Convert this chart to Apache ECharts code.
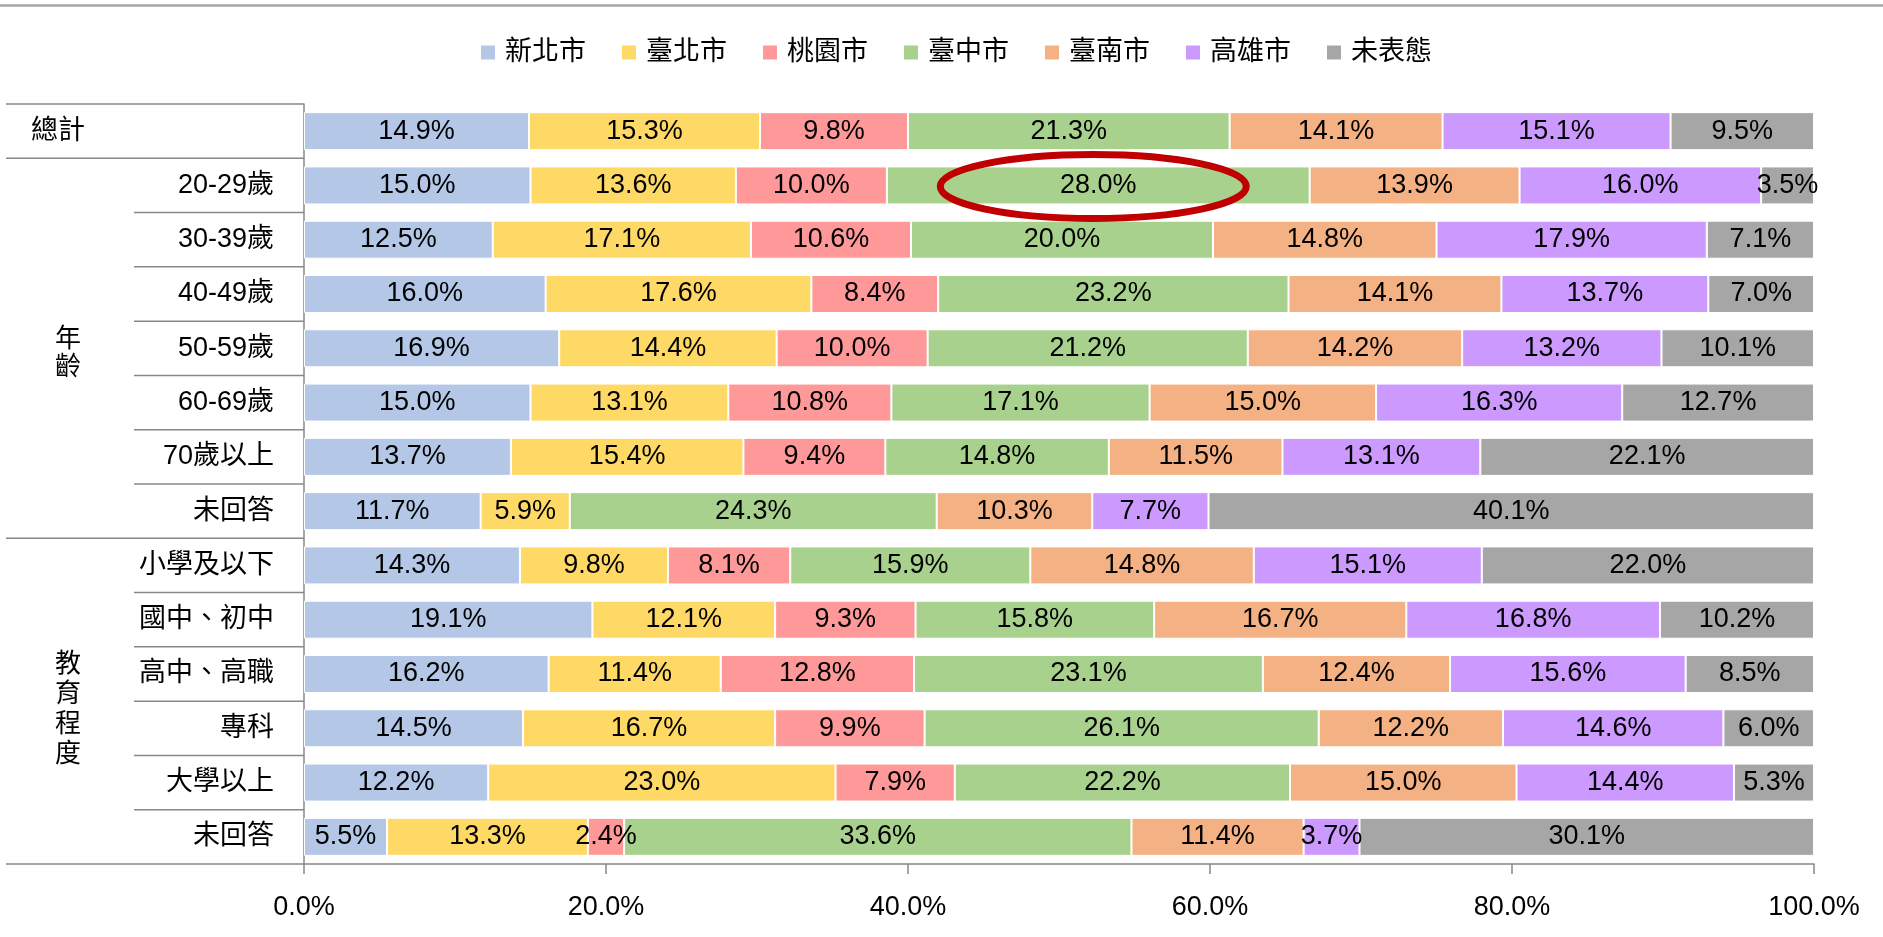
<!DOCTYPE html>
<html>
<head>
<meta charset="utf-8">
<script src="https://cdn.jsdelivr.net/npm/echarts@6/dist/echarts.min.js"></script>
<style>
html,body{margin:0;padding:0;background:#fff;}
#main{width:1883px;height:937px;}
</style>
</head>
<body>
<div id="main"></div>
<script>
const categories = ['總計','20-29歲','30-39歲','40-49歲','50-59歲','60-69歲','70歲以上','未回答','小學及以下','國中、初中','高中、高職','專科','大學以上','未回答'];
const seriesNames = ['新北市','臺北市','桃園市','臺中市','臺南市','高雄市','未表態'];
const newTaipei = [14.9,15.0,12.5,16.0,16.9,15.0,13.7,11.7,14.3,19.1,16.2,14.5,12.2,5.5];
const taipei    = [15.3,13.6,17.1,17.6,14.4,13.1,15.4,5.9,9.8,12.1,11.4,16.7,23.0,13.3];
const taoyuan   = [9.8,10.0,10.6,8.4,10.0,10.8,9.4,0,8.1,9.3,12.8,9.9,7.9,2.4];
const taichung  = [21.3,28.0,20.0,23.2,21.2,17.1,14.8,24.3,15.9,15.8,23.1,26.1,22.2,33.6];
const tainan    = [14.1,13.9,14.8,14.1,14.2,15.0,11.5,10.3,14.8,16.7,12.4,12.2,15.0,11.4];
const kaohsiung = [15.1,16.0,17.9,13.7,13.2,16.3,13.1,7.7,15.1,16.8,15.6,14.6,14.4,3.7];
const undecided = [9.5,3.5,7.1,7.0,10.1,12.7,22.1,40.1,22.0,10.2,8.5,6.0,5.3,30.1];
const xTicks = [0,20,40,60,80,100];
const groups = [
  {name:'年齡', from:1, to:7},
  {name:'教育程度', from:8, to:13}
];
const highlight = {row:1, series:3};

const seriesData = [newTaipei,taipei,taoyuan,taichung,tainan,kaohsiung,undecided];
const colors = ['#b4c7e7','#ffd966','#ff9999','#a9d18e','#f4b183','#cc99ff','#a6a6a6'];
const FONT = '"Liberation Sans", Arial, "Noto Sans CJK TC", sans-serif';

const chart = echarts.init(document.getElementById('main'), null, {renderer:'canvas'});

const option = {
  animation:false,
  backgroundColor:'#fff',
  textStyle:{fontFamily:FONT},
  legend:{
    data:seriesNames,
    left:474, top:34,
    itemWidth:16, itemHeight:16, itemGap:34,
    icon:'rect',
    textStyle:{fontSize:27, color:'#000', fontFamily:FONT, padding:[0,0,0,4]}
  },
  grid:{left:304, right:69, top:104, bottom:73, containLabel:false},
  xAxis:{
    type:'value', min:xTicks[0], max:xTicks[xTicks.length-1], interval:xTicks[1]-xTicks[0],
    axisLine:{show:true, lineStyle:{color:'#888', width:1.5}},
    axisTick:{show:true, length:10, lineStyle:{color:'#888', width:1.5}},
    splitLine:{show:false},
    axisLabel:{fontSize:27, color:'#000', margin:30, fontFamily:FONT,
      formatter:v => v.toFixed(1)+'%'}
  },
  yAxis:{
    type:'category', inverse:true, data:categories,
    axisLine:{show:true, lineStyle:{color:'#888', width:1.5}},
    axisTick:{show:false},
    axisLabel:{fontSize:27, color:'#000', margin:30, fontFamily:FONT,
      formatter:(v, i) => i === 0 ? '{l|'+v+'}' : v,
      rich:{l:{width:243, align:'left', fontSize:27, color:'#000', fontFamily:FONT}}
    }
  },
  series: seriesNames.map((n, k) => ({
    name:n, type:'bar', stack:'total', barWidth:38,
    itemStyle:{color:colors[k], borderColor:'#fff', borderWidth:1},
    label:{show:true, position:'inside', color:'#000', fontSize:27, fontFamily:FONT,
      formatter:p => p.value > 0 ? p.value.toFixed(1)+'%' : ''},
    data:seriesData[k]
  }))
};
chart.setOption(option);

function buildGraphics(){
  const g = [];
  const y0 = chart.convertToPixel({yAxisIndex:0}, 0);
  const y1 = chart.convertToPixel({yAxisIndex:0}, 1);
  const rowH = y1 - y0;
  const top = y0 - rowH/2;
  const axisX = chart.convertToPixel({xAxisIndex:0}, 0);
  const lineStyle = {stroke:'#888', lineWidth:1.5};
  const boundary = i => top + rowH*i;
  g.push({type:'line', shape:{x1:0, y1:5.5, x2:1883, y2:5.5}, style:{stroke:'#a6a6a6', lineWidth:2.5}});
  const groupBounds = [0, 1, groups[0].to+1, categories.length];
  groupBounds.forEach(b => {
    g.push({type:'line', shape:{x1:6, y1:boundary(b), x2:axisX, y2:boundary(b)}, style:lineStyle});
  });
  groups.forEach((gr, gi) => {
    for (let i = gr.from+1; i <= gr.to; i++) {
      g.push({type:'line', shape:{x1:134, y1:boundary(i), x2:axisX, y2:boundary(i)}, style:lineStyle});
    }
    const cy = (boundary(gr.from) + boundary(gr.to+1))/2 + (gi === 0 ? 6 : 9);
    g.push({type:'text', x:68, y:cy, style:{
      text:gr.name.split('').join('\n'), fontSize:26, lineHeight:gi === 0 ? 28 : 30, fill:'#000',
      fontFamily:FONT, align:'center', verticalAlign:'middle'}});
  });
  let start = 0;
  for (let k = 0; k < highlight.series; k++) start += seriesData[k][highlight.row];
  const mid = start + seriesData[highlight.series][highlight.row]/2;
  const c = chart.convertToPixel({gridIndex:0}, [mid, highlight.row]);
  g.push({type:'ellipse', shape:{cx:c[0]-5, cy:c[1]+1, rx:153, ry:32},
    style:{fill:'none', stroke:'#c00000', lineWidth:7}, z:100});
  chart.setOption({graphic:g});
}
buildGraphics();
</script>
</body>
</html>
